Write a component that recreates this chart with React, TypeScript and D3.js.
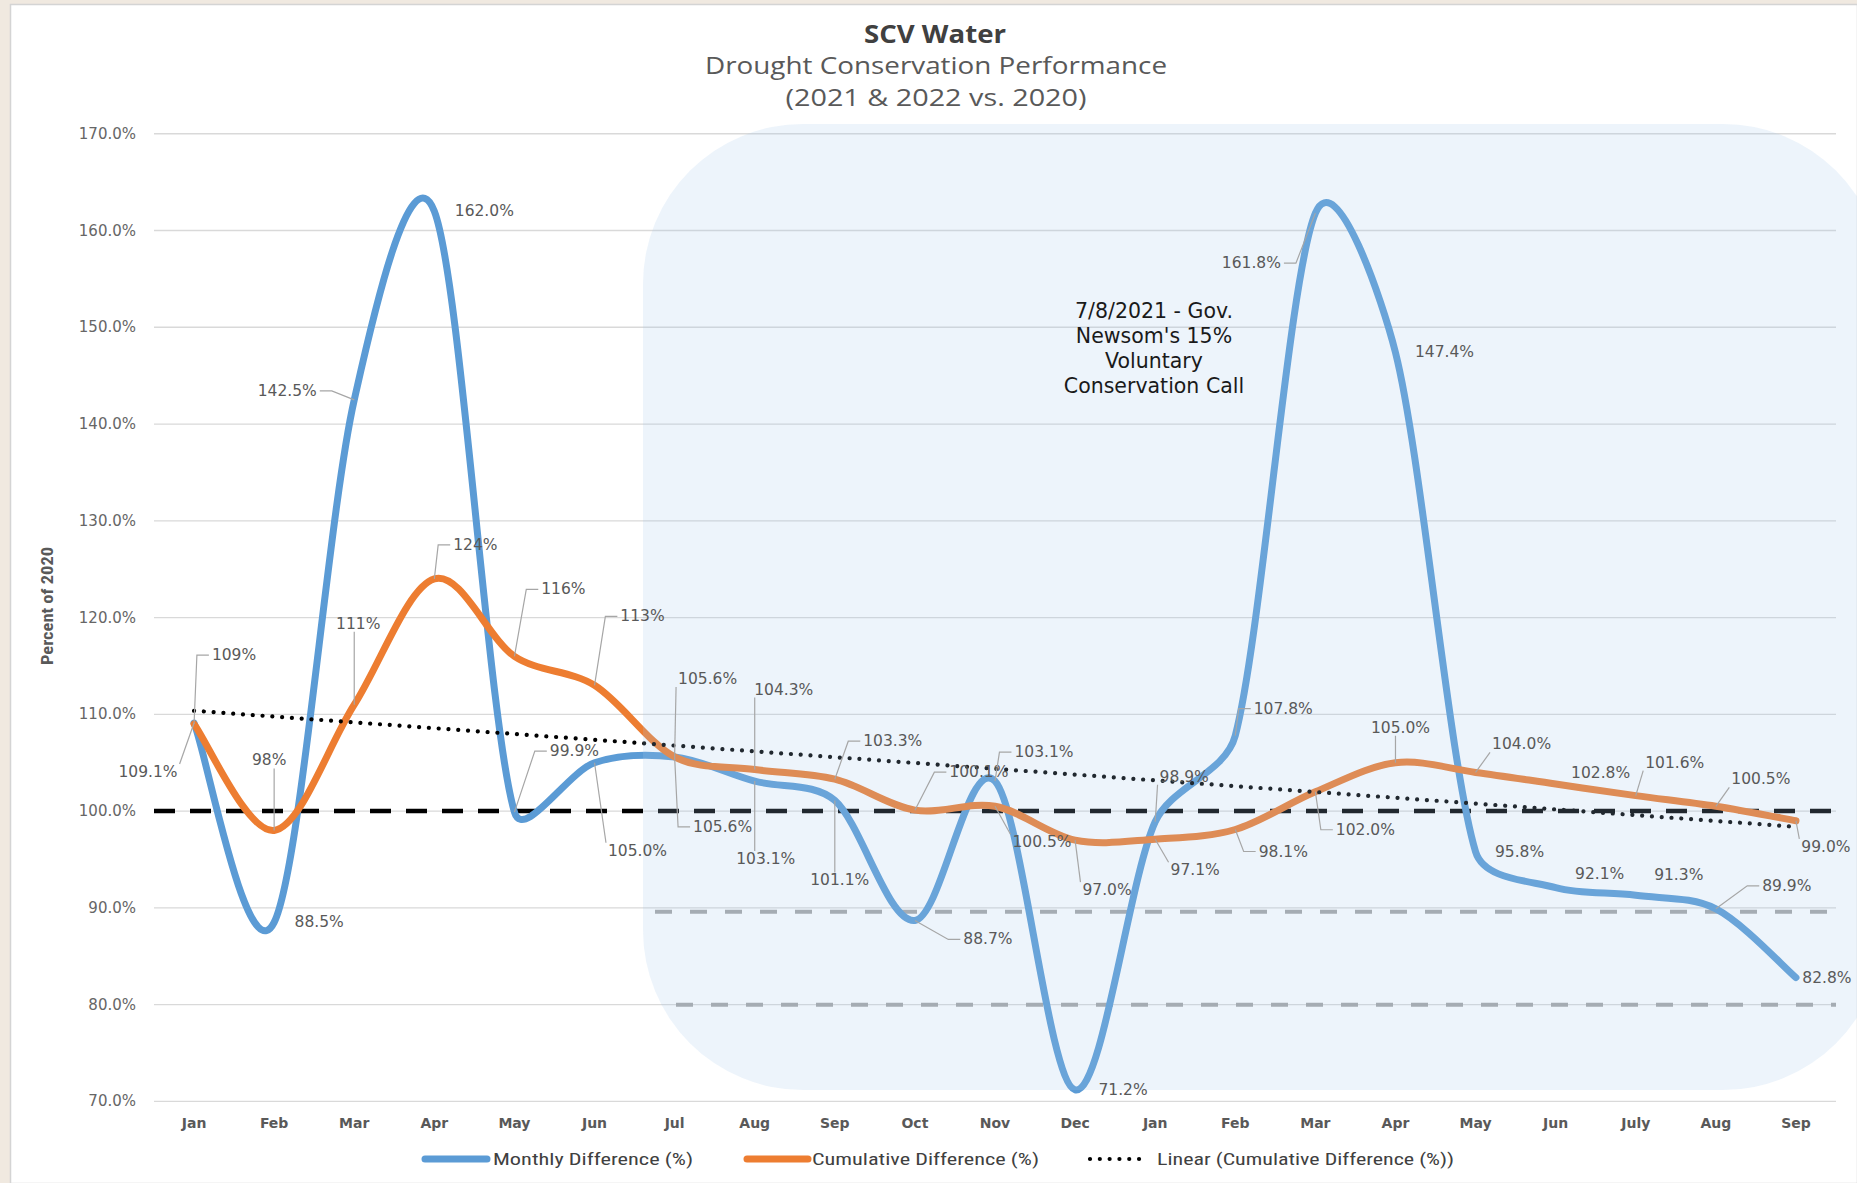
import React from 'react';
import * as d3 from 'd3';

// ---------- DATA ----------
const categories = ['Jan','Feb','Mar','Apr','May','Jun','Jul','Aug','Sep','Oct','Nov','Dec','Jan','Feb','Mar','Apr','May','Jun','July','Aug','Sep'];
const monthlyDiff = [109.1,88.5,142.5,162.0,99.9,105.0,105.6,103.1,101.1,88.7,103.1,71.2,98.9,107.8,161.8,147.4,95.8,92.1,91.3,89.9,82.8];
const cumulativeDiff = [109,98,111,124,116,113,105.6,104.3,103.3,100.1,100.5,97.0,97.1,98.1,102.0,105.0,104.0,102.8,101.6,100.5,99.0];
const cumulativeDecimals = [0,0,0,0,0,0,1,1,1,1,1,1,1,1,1,1,1,1,1,1,1];
const yTicks = [70,80,90,100,110,120,130,140,150,160,170];
const baselineValue = 100;
const targetValues = [89.6, 80];
const seriesNames = ['Monthly Difference (%)','Cumulative Difference (%)','Linear (Cumulative Difference (%))'];
const titleLines = ['SCV Water','Drought Conservation Performance','(2021 & 2022 vs. 2020)'];
const annotationLines = ['7/8/2021 - Gov.',"Newsom's 15%",'Voluntary','Conservation Call'];

// ---------- LAYOUT (label offsets: dx, dy, leader type 0 none / 1 straight / 2 bracket-left / 3 bracket-right) ----------
const monthlyLabelLayout = [
  [-46,49,1],[45,0,0],[-67,-9,3],[50,0,0],[60,-61,2],[43,88,1],[48,70,2],[11,78,1],[5,80,1],[73,19,2],
  [49,-29,2],[48,0,0],[29,-45,1],[48,-27,2],[-64,50,3],[49,0,0],[44,0,0],[44,-14,0],[43,-20,0],[71,-23,2],[31,0,0],
];
const cumulativeLabelLayout = [
  [40,-69,2],[-5,-70,1],[4,-81,1],[41,-34,2],[49,-67,2],[48,-69,2],[33,-78,1],[29,-80,1],[58,-38,2],[64,-38,2],
  [47,36,1],[32,50,1],[40,31,1],[48,22,2],[50,38,2],[5,-35,1],[46,-28,1],[45,-11,0],[39,-33,1],[45,-27,1],[30,26,1],
];

const W = 1857, H = 1183;
const plotL = 154, plotR = 1836, plotT = 133.8, plotB = 1101.4;
const BLUE = '#5b9bd5', ORANGE = '#ed7d31', GRAY_TXT = '#595959';
const LABEL_FS = 15.5;

function textWidth(s: string, fs: number) {
  let w = 0;
  for (const c of s) {
    if (c >= '0' && c <= '9') w += 0.636;
    else if (c === '.') w += 0.318;
    else if (c === '%') w += 0.95;
    else w += 0.6;
  }
  return w * fs;
}

// Excel-like smoothed line: Catmull-Rom bezier, control arm limited to 1/3 of segment length
function smoothPath(pts: [number, number][]) {
  const p = d3.path();
  const n = pts.length;
  const tan = (i: number): [number, number] => {
    const a = pts[Math.max(0, i - 1)], b = pts[Math.min(n - 1, i + 1)];
    return [(b[0] - a[0]) / 6, (b[1] - a[1]) / 6];
  };
  const clampArm = (t: [number, number], segLen: number): [number, number] => {
    const l = Math.hypot(t[0], t[1]);
    const lim = segLen / 3;
    if (l > lim && l > 0) return [t[0] * lim / l, t[1] * lim / l];
    return t;
  };
  p.moveTo(pts[0][0], pts[0][1]);
  for (let i = 0; i < n - 1; i++) {
    const a = pts[i], b = pts[i + 1];
    const seg = Math.hypot(b[0] - a[0], b[1] - a[1]);
    const t1 = clampArm(tan(i), seg);
    const t2 = clampArm(tan(i + 1), seg);
    p.bezierCurveTo(a[0] + t1[0], a[1] + t1[1], b[0] - t2[0], b[1] - t2[1], b[0], b[1]);
  }
  return p.toString();
}

export default function App() {
  const idx = d3.range(categories.length);
  const x = d3.scalePoint<number>().domain(idx).range([plotL, plotR]).padding(0.5);
  const y = d3.scaleLinear().domain([70, 170]).range([plotB, plotT]);
  const toPts = (vals: number[]) => vals.map((v, i) => [x(i)!, y(v)] as [number, number]);

  // linear trend of cumulative
  const mx = d3.mean(idx)!;
  const my = d3.mean(cumulativeDiff)!;
  const slope = d3.sum(idx, i => (i - mx) * (cumulativeDiff[i] - my)) / d3.sum(idx, i => (i - mx) ** 2);
  const intercept = my - slope * mx;
  const trendPath = d3.line<number>().x(i => x(i)!).y(i => y(intercept + slope * i))([0, idx.length - 1]);

  const fmt1 = d3.format('.1f');
  const fmt0 = d3.format('.0f');

  const renderLabels = (vals: number[], layout: number[][], texts: string[], key: string) =>
    vals.map((v, i) => {
      const px = x(i)!, py = y(v);
      const [dx, dy, lt] = layout[i];
      const cx = px + dx, cy = py + dy;
      const hw = textWidth(texts[i], LABEL_FS) / 2 + 2, hh = 8;
      let leader: string | null = null;
      if (lt === 1) {
        const ex = Math.max(cx - hw, Math.min(cx + hw, px));
        const ey = Math.max(cy - hh, Math.min(cy + hh, py));
        if (Math.hypot(ex - px, ey - py) > 6) leader = `M${ex},${ey}L${px},${py}`;
      } else if (lt === 2) {
        const e = cx - hw - 1;
        const len = Math.min(12, Math.max(4, e - px));
        leader = `M${e},${cy}L${e - len},${cy}L${px},${py}`;
      } else if (lt === 3) {
        const e = cx + hw + 1;
        const len = Math.min(12, Math.max(4, px - e));
        leader = `M${e},${cy}L${e + len},${cy}L${px},${py}`;
      }
      return (
        <g key={key + i}>
          {leader && <path d={leader} fill="none" stroke="#a6a6a6" strokeWidth={1.2} />}
          <text x={cx} y={cy} textAnchor="middle" dominantBaseline="central" fontFamily="'DejaVu Sans', Verdana, sans-serif" fontSize={LABEL_FS} fill={GRAY_TXT}>{texts[i]}</text>
        </g>
      );
    });

  const monthlyTexts = monthlyDiff.map(v => fmt1(v) + '%');
  const cumulativeTexts = cumulativeDiff.map((v, i) => (cumulativeDecimals[i] ? fmt1(v) : fmt0(v)) + '%');

  const narrow = "'Liberation Sans Narrow', 'Roboto Condensed', 'Open Sans', sans-serif";

  return (
    <div style={{ position: 'absolute', left: 0, top: 0 }}>
      <svg width={W} height={H} style={{ display: 'block' }}>
        <rect x={0} y={0} width={W} height={H} fill="#f0e9e0" />
        <rect x={10.5} y={4.5} width={W - 10} height={H - 4} fill="#ffffff" stroke="#d4d4d4" strokeWidth={1.5} />

        {/* title */}
        <text x={935} y={33} textAnchor="middle" dominantBaseline="central" fontFamily="'Open Sans', sans-serif" fontWeight="bold" fontSize={25} fill="#404040" textLength={142} lengthAdjust="spacingAndGlyphs">{titleLines[0]}</text>
        <text x={936} y={64} textAnchor="middle" dominantBaseline="central" fontFamily="'Open Sans', sans-serif" fontSize={24} fill={GRAY_TXT} textLength={462} lengthAdjust="spacingAndGlyphs">{titleLines[1]}</text>
        <text x={936} y={96} textAnchor="middle" dominantBaseline="central" fontFamily="'Open Sans', sans-serif" fontSize={24} fill={GRAY_TXT} textLength={301} lengthAdjust="spacingAndGlyphs">{titleLines[2]}</text>

        {/* gridlines + y ticks */}
        {yTicks.map(t => (
          <g key={'g' + t}>
            <line x1={plotL} x2={plotR} y1={y(t)} y2={y(t)} stroke="#d9d9d9" strokeWidth={1.4} />
            <text x={136} y={y(t)} textAnchor="end" dominantBaseline="central" fontFamily="'DejaVu Sans', Verdana, sans-serif" fontSize={15} fill="#666666">{fmt1(t) + '%'}</text>
          </g>
        ))}

        {/* y axis title */}
        <text transform={`translate(47,606) rotate(-90)`} textAnchor="middle" dominantBaseline="central" fontFamily={narrow} fontWeight="bold" fontSize={17} fill={GRAY_TXT} textLength={118} lengthAdjust="spacingAndGlyphs">Percent of 2020</text>

        {/* x labels */}
        {categories.map((c, i) => (
          <text key={'x' + i} x={x(i)!} y={1123} textAnchor="middle" dominantBaseline="central" fontFamily="'DejaVu Sans', Verdana, sans-serif" fontWeight="bold" fontSize={14} fill={GRAY_TXT}>{c}</text>
        ))}

        {/* reference lines */}
        <line x1={655} x2={plotR} y1={y(targetValues[0])} y2={y(targetValues[0])} stroke="#a6a6a6" strokeWidth={4} strokeDasharray="17 18" />
        <line x1={676} x2={plotR} y1={y(targetValues[1])} y2={y(targetValues[1])} stroke="#a6a6a6" strokeWidth={4} strokeDasharray="17 18" />
        <line x1={plotL} x2={1842} y1={y(baselineValue)} y2={y(baselineValue)} stroke="#000" strokeWidth={4.5} strokeDasharray="21 15" />

        {/* series */}
        <path d={smoothPath(toPts(monthlyDiff))} fill="none" stroke={BLUE} strokeWidth={7} strokeLinecap="round" strokeLinejoin="round" />
        <path d={smoothPath(toPts(cumulativeDiff))} fill="none" stroke={ORANGE} strokeWidth={7} strokeLinecap="round" strokeLinejoin="round" />
        <path d={trendPath!} fill="none" stroke="#000" strokeWidth={4.2} strokeLinecap="round" strokeDasharray="0.01 9.8" />

        {/* shaded overlay */}
        <rect x={643} y={124} width={1240} height={966} rx={160} ry={160} fill="rgb(165,200,235)" fillOpacity={0.2} />

        {/* labels */}
        {renderLabels(cumulativeDiff, cumulativeLabelLayout, cumulativeTexts, 'c')}
        {renderLabels(monthlyDiff, monthlyLabelLayout, monthlyTexts, 'm')}

        {/* annotation */}
        {annotationLines.map((s, i) => (
          <text key={'a' + i} x={1154} y={311 + i * 25} textAnchor="middle" dominantBaseline="central" fontFamily="'DejaVu Sans', Verdana, sans-serif" fontSize={20.5} fill="#1a1a1a">{s}</text>
        ))}

        {/* legend */}
        <line x1={425} x2={487} y1={1159} y2={1159} stroke={BLUE} strokeWidth={7} strokeLinecap="round" />
        <text x={493} y={1159} dominantBaseline="central" fontFamily={narrow} fontSize={17} fill="#404040" textLength={200} lengthAdjust="spacingAndGlyphs">{seriesNames[0]}</text>
        <line x1={747} x2={808} y1={1159} y2={1159} stroke={ORANGE} strokeWidth={7} strokeLinecap="round" />
        <text x={812} y={1159} dominantBaseline="central" fontFamily={narrow} fontSize={17} fill="#404040" textLength={227} lengthAdjust="spacingAndGlyphs">{seriesNames[1]}</text>
        <line x1={1090} x2={1148} y1={1159} y2={1159} stroke="#000" strokeWidth={4.2} strokeLinecap="round" strokeDasharray="0.01 9.8" />
        <text x={1157} y={1159} dominantBaseline="central" fontFamily={narrow} fontSize={17} fill="#404040" textLength={297} lengthAdjust="spacingAndGlyphs">{seriesNames[2]}</text>
      </svg>
    </div>
  );
}
